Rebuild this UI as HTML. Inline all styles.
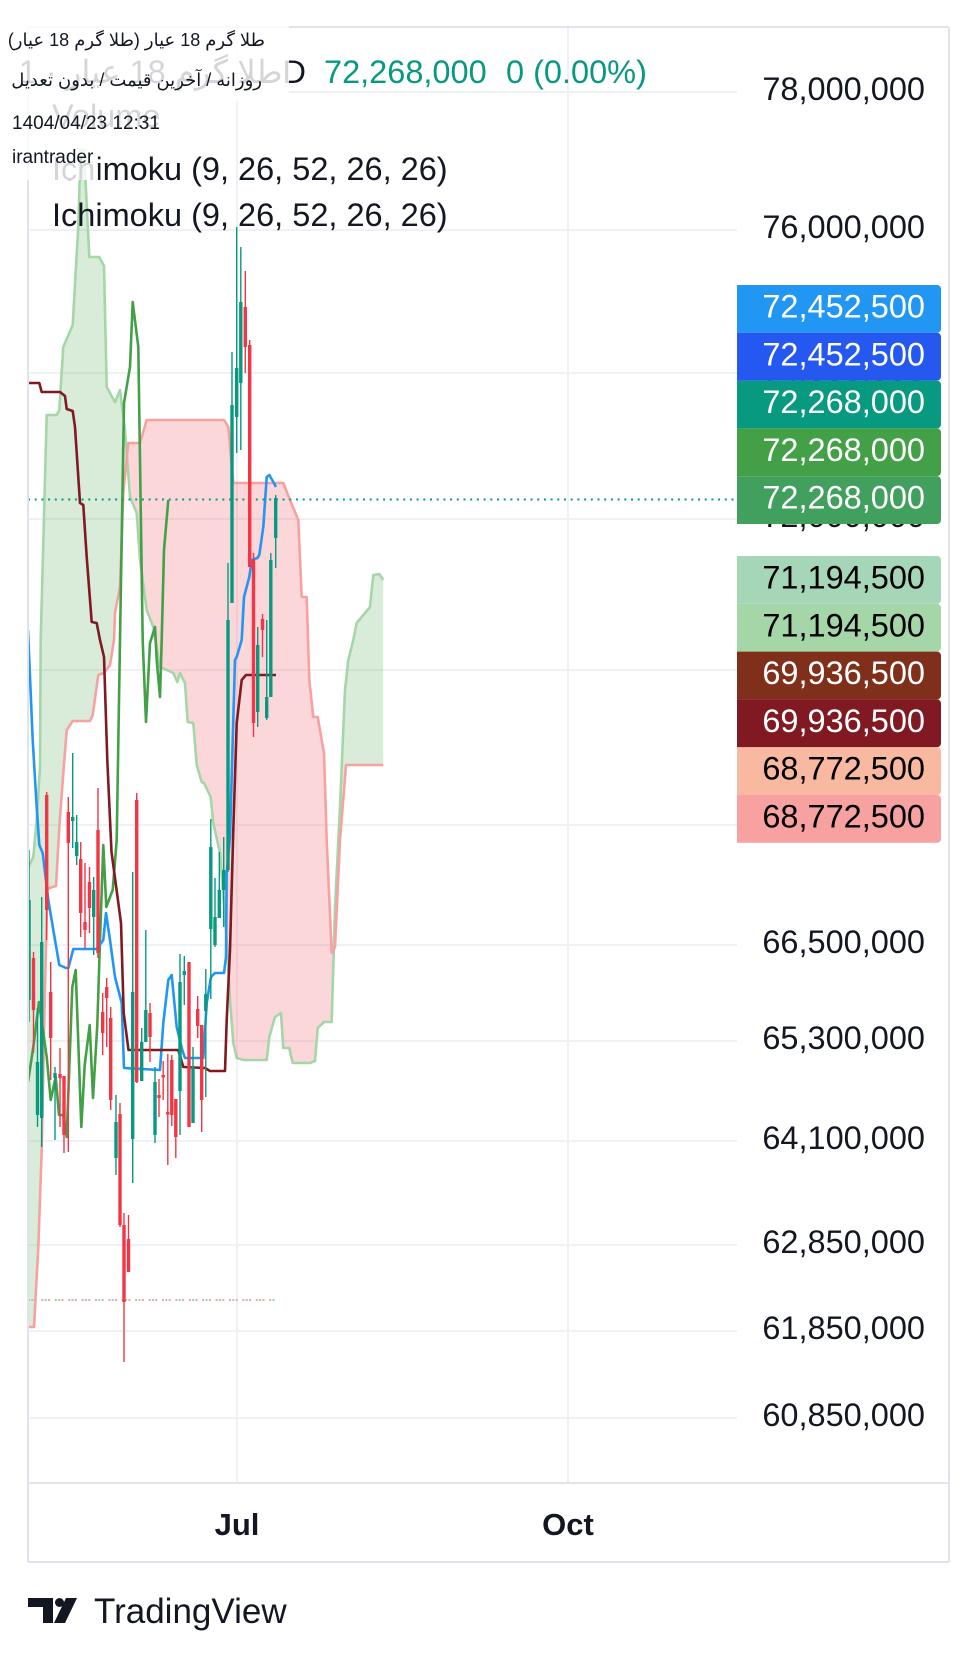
<!DOCTYPE html>
<html><head><meta charset="utf-8"><style>
html,body{margin:0;padding:0;background:#fff;}
#wrap{position:relative;width:978px;height:1660px;overflow:hidden;background:#fff;}
svg{position:absolute;left:0;top:0;}
.fa{position:absolute;font-family:"Liberation Sans","DejaVu Sans",sans-serif;font-size:18px;color:#131722;direction:rtl;white-space:nowrap;line-height:20px;}
</style></head><body><div id="wrap">
<svg width="978" height="1660" viewBox="0 0 978 1660" font-family="'Liberation Sans','DejaVu Sans',sans-serif">
<defs>
<clipPath id="plot"><rect x="28" y="27" width="709" height="1456"/></clipPath>
<clipPath id="belowA"><polygon points="28,868 33.3,857 36.7,820 40,767 40.7,640 46.7,415 56.7,415 59.3,410 63.3,347 72.7,325 78.3,227 80.5,150 84,150 89.3,257 99.3,257 104,266 106.7,387 115,402 120,390 125,430 130,497 136.7,513 140,560 146.7,610 153.3,627 160,667 173.3,673 177.3,682 180,673 185,683 187.7,722 193.3,723 196.7,765 201.7,782 204,783 210.7,797 213.3,823 220,853 226.7,940 230,1000 233.3,1043 236.7,1058 244,1060 266.7,1060 269.3,1037 275,1017 281,1013 283.3,1048 289.3,1048 292.7,1063 310,1063 315,1061 317.7,1028 324,1022 331.7,1022 335,907 340,807 345,690 348.3,660 353.3,640 356.7,623 370,607 373.3,575 379.3,574 383.3,580 383.3,1483 28,1483"/></clipPath>
<clipPath id="aboveA"><polygon points="28,868 33.3,857 36.7,820 40,767 40.7,640 46.7,415 56.7,415 59.3,410 63.3,347 72.7,325 78.3,227 80.5,150 84,150 89.3,257 99.3,257 104,266 106.7,387 115,402 120,390 125,430 130,497 136.7,513 140,560 146.7,610 153.3,627 160,667 173.3,673 177.3,682 180,673 185,683 187.7,722 193.3,723 196.7,765 201.7,782 204,783 210.7,797 213.3,823 220,853 226.7,940 230,1000 233.3,1043 236.7,1058 244,1060 266.7,1060 269.3,1037 275,1017 281,1013 283.3,1048 289.3,1048 292.7,1063 310,1063 315,1061 317.7,1028 324,1022 331.7,1022 335,907 340,807 345,690 348.3,660 353.3,640 356.7,623 370,607 373.3,575 379.3,574 383.3,580 383.3,0 28,0"/></clipPath>
<clipPath id="belowB"><polygon points="28,1327 34,1327 38.3,1247 41.7,1150 44.5,1010 47.3,890 49.3,888 56,886 59.3,827 63.3,773 66.7,730 72.7,721 90,721 92.7,715 98.3,675 104,673 110,665 114,640 115,613 120,587 123.3,493 128.3,443 140,443 146.7,420 224,420 228.3,427 233.3,483 283.3,483 290,500 298.3,520 301.7,597 306.7,597 309.3,680 313.3,717 317.7,717 324,753 326.7,840 331.7,953 335,947 340,840 346,765 383.3,765 383.3,1483 28,1483"/></clipPath>
<clipPath id="aboveB"><polygon points="28,1327 34,1327 38.3,1247 41.7,1150 44.5,1010 47.3,890 49.3,888 56,886 59.3,827 63.3,773 66.7,730 72.7,721 90,721 92.7,715 98.3,675 104,673 110,665 114,640 115,613 120,587 123.3,493 128.3,443 140,443 146.7,420 224,420 228.3,427 233.3,483 283.3,483 290,500 298.3,520 301.7,597 306.7,597 309.3,680 313.3,717 317.7,717 324,753 326.7,840 331.7,953 335,947 340,840 346,765 383.3,765 383.3,0 28,0"/></clipPath>
</defs>

<!-- grid -->
<g stroke="#F0F1F4" stroke-width="2">
<line x1="28" y1="92" x2="737" y2="92"/>
<line x1="28" y1="230" x2="737" y2="230"/>
<line x1="28" y1="373" x2="737" y2="373"/>
<line x1="28" y1="519" x2="737" y2="519"/>
<line x1="28" y1="670" x2="737" y2="670"/>
<line x1="28" y1="825" x2="737" y2="825"/>
<line x1="28" y1="945" x2="737" y2="945"/>
<line x1="28" y1="1041" x2="737" y2="1041"/>
<line x1="28" y1="1141" x2="737" y2="1141"/>
<line x1="28" y1="1245" x2="737" y2="1245"/>
<line x1="28" y1="1331" x2="737" y2="1331"/>
<line x1="28" y1="1418" x2="737" y2="1418"/>
<line x1="237" y1="27" x2="237" y2="1483"/>
<line x1="568" y1="27" x2="568" y2="1483"/>
</g>

<g clip-path="url(#plot)">
<!-- cloud -->
<g clip-path="url(#belowA)"><rect clip-path="url(#aboveB)" x="28" y="27" width="356" height="1456" fill="#43A047" fill-opacity="0.2"/></g>
<g clip-path="url(#belowB)"><rect clip-path="url(#aboveA)" x="28" y="27" width="356" height="1456" fill="#F23645" fill-opacity="0.2"/></g>

<g fill="none" stroke-width="2.6" stroke-linejoin="round">
<polyline stroke="#A5D6A7" points="28,868 33.3,857 36.7,820 40,767 40.7,640 46.7,415 56.7,415 59.3,410 63.3,347 72.7,325 78.3,227 80.5,150 84,150 89.3,257 99.3,257 104,266 106.7,387 115,402 120,390 125,430 130,497 136.7,513 140,560 146.7,610 153.3,627 160,667 173.3,673 177.3,682 180,673 185,683 187.7,722 193.3,723 196.7,765 201.7,782 204,783 210.7,797 213.3,823 220,853 226.7,940 230,1000 233.3,1043 236.7,1058 244,1060 266.7,1060 269.3,1037 275,1017 281,1013 283.3,1048 289.3,1048 292.7,1063 310,1063 315,1061 317.7,1028 324,1022 331.7,1022 335,907 340,807 345,690 348.3,660 353.3,640 356.7,623 370,607 373.3,575 379.3,574 383.3,580"/>
<polyline stroke="#F7A1A1" points="28,1327 34,1327 38.3,1247 41.7,1150 44.5,1010 47.3,890 49.3,888 56,886 59.3,827 63.3,773 66.7,730 72.7,721 90,721 92.7,715 98.3,675 104,673 110,665 114,640 115,613 120,587 123.3,493 128.3,443 140,443 146.7,420 224,420 228.3,427 233.3,483 283.3,483 290,500 298.3,520 301.7,597 306.7,597 309.3,680 313.3,717 317.7,717 324,753 326.7,840 331.7,953 335,947 340,840 346,765 383.3,765"/>
<polyline stroke="#43A047" points="28,1082 33.3,1047 39,1002 46.7,1057 50.7,1100 55.7,1077 59,1115 63.3,1115 66.7,1137 72.3,987 75.7,970 81.3,1127 84.7,1065 89.7,1025 93,1098 97.3,1025 100,940 103.3,845 106.3,907 112.7,890 116.7,840 120,640 124,403 130,367 132.7,302 138.3,347 142.7,640 144,673 146,722 150,643 155,627 156.7,660 160,697 161.7,640 164,550 168.3,500"/>
<polyline stroke="#2196F3" points="28,630 32.7,740 36.7,807 39.3,845 42.7,853 48.3,900 53.3,930 59.3,965 66,968 68.3,968 73.3,949 96.7,949 103.3,940 106,913 110,940 115,977 121.7,1003 124,1068 160,1070 163.3,1023 168.3,980 171.7,975 176.7,1027 182.3,1050 185,1058 203.3,1058 206.7,1003 211,977 215,973 224,973 226,957 226.7,873 230,837 235,660 236.7,657 241.7,640 244,597 249.3,577 251.7,560 257.3,558 259.3,555 263.3,527 266.7,477 269.3,475 273.3,482 276,487"/>
<polyline stroke="#801922" points="28,383 39.3,383 41.7,392 60,392 65,396 66.7,409 72.7,411 75,427 80,503 83.3,505 86.7,557 91.7,622 96.7,623 100,640 104,657 107.3,760 111.5,852 115,878 121,923 123.7,1013 128.5,1050 178.3,1050 183.3,1067 205,1068 210,1071 225,1071 226.7,1020 230,950 233.3,830 236.7,723 241.7,680 246,675 276,675"/>
</g>

<!-- dotted lines -->
<line x1="28" y1="499.5" x2="737" y2="499.5" stroke="#089981" stroke-width="2" stroke-dasharray="2 4.7"/>
<line x1="28" y1="1300" x2="276" y2="1300" stroke="#F7A1A1" stroke-width="2" stroke-dasharray="2 4.7"/>
<line x1="31.3" y1="1300" x2="276" y2="1300" stroke="#8FD3C5" stroke-width="2" stroke-dasharray="2 11.4"/>

<!-- candles -->
<path fill="none" stroke="#089981" stroke-width="1.4" d="M29 850V1022M37.5 1008V1127M41.7 897V1147M55 1067V1140M72.7 753V848M76.7 815V865M93.7 877V955M116 1095V1175M132.7 872V1183M141.7 1028V1081M145.8 930V1042M155 1067V1143M180 954V1135M184.3 956V1005M193 1047V1123M205.8 969V1097M210.8 819V999M215 878V947M219.3 852V918M223.7 837V927M228 563V872M232 352V603M236.7 227V453M240.8 247V450M257.7 627V727M266.7 620V720M270.8 553V697M275.7 495V568"/>
<g fill="#089981">
<rect x="27.3" y="900" width="3.4" height="100"/>
<rect x="35.8" y="1062" width="3.4" height="53"/>
<rect x="40" y="942" width="3.4" height="176"/>
<rect x="53.3" y="1073" width="3.4" height="5"/>
<rect x="71" y="817" width="3.4" height="4"/>
<rect x="75" y="842" width="3.4" height="14"/>
<rect x="92" y="890" width="3.4" height="27"/>
<rect x="114.3" y="1122" width="3.4" height="36"/>
<rect x="131" y="992" width="3.4" height="147"/>
<rect x="140" y="1042" width="3.4" height="39"/>
<rect x="144.1" y="1010" width="3.4" height="32"/>
<rect x="153.3" y="1082" width="3.4" height="53"/>
<rect x="178.3" y="982" width="3.4" height="109"/>
<rect x="182.6" y="971" width="3.4" height="4"/>
<rect x="191.3" y="1066" width="3.4" height="57"/>
<rect x="204.1" y="994" width="3.4" height="17"/>
<rect x="209.1" y="847" width="3.4" height="82"/>
<rect x="213.3" y="917" width="3.4" height="28"/>
<rect x="217.6" y="890" width="3.4" height="28"/>
<rect x="222" y="870" width="3.4" height="20"/>
<rect x="226.3" y="620" width="3.4" height="250"/>
<rect x="230.3" y="405" width="3.4" height="198"/>
<rect x="235" y="368" width="3.4" height="49"/>
<rect x="239.1" y="302" width="3.4" height="81"/>
<rect x="256" y="645" width="3.4" height="67"/>
<rect x="265" y="697" width="3.4" height="21"/>
<rect x="269.1" y="560" width="3.4" height="137"/>
<rect x="274" y="498" width="3.4" height="40"/>
</g>
<path fill="none" stroke="#F23645" stroke-width="1.4" d="M33.5 952V1053M46.7 792V940M50.7 962V1080M60 1048V1127M64 1076V1153M68.3 797V1152M80.7 842V937M85 863V948M89.5 867V933M98 788V958M102.7 993V1055M106.7 978V1047M110.7 1007V1110M120 1103V1227M124 1213V1362M128.5 1215V1272M136.7 793V1083M150 1003V1062M159 1079V1117M163.2 1061V1100M167.8 1054V1165M171.8 1055V1126M175.8 1099V1158M189 962V1127M197.7 996V1038M201.7 1025V1132M245.3 271V373M249.7 340V567M253.5 553V737M262.5 614V657"/>
<g fill="#F23645">
<rect x="31.8" y="958" width="3.4" height="52"/>
<rect x="45" y="795" width="3.4" height="115"/>
<rect x="49" y="992" width="3.4" height="46"/>
<rect x="58.3" y="1074" width="3.4" height="4"/>
<rect x="62.3" y="1076" width="3.4" height="59"/>
<rect x="66.6" y="812" width="3.4" height="31"/>
<rect x="79" y="859" width="3.4" height="54"/>
<rect x="83.3" y="922" width="3.4" height="8"/>
<rect x="87.8" y="882" width="3.4" height="26"/>
<rect x="96.3" y="830" width="3.4" height="123"/>
<rect x="101" y="1012" width="3.4" height="21"/>
<rect x="105" y="987" width="3.4" height="11"/>
<rect x="109" y="1018" width="3.4" height="82"/>
<rect x="118.3" y="1114" width="3.4" height="111"/>
<rect x="122.3" y="1225" width="3.4" height="77"/>
<rect x="126.8" y="1239" width="3.4" height="33"/>
<rect x="135" y="800" width="3.4" height="282"/>
<rect x="148.3" y="1013" width="3.4" height="24"/>
<rect x="157.3" y="1095" width="3.4" height="3"/>
<rect x="161.5" y="1075" width="3.4" height="2.5"/>
<rect x="166.1" y="1112" width="3.4" height="2.5"/>
<rect x="170.1" y="1060" width="3.4" height="55"/>
<rect x="174.1" y="1099" width="3.4" height="38"/>
<rect x="187.3" y="962" width="3.4" height="165"/>
<rect x="196" y="1009" width="3.4" height="17"/>
<rect x="200" y="1025" width="3.4" height="75"/>
<rect x="243.6" y="307" width="3.4" height="40"/>
<rect x="248" y="345" width="3.4" height="222"/>
<rect x="251.8" y="560" width="3.4" height="163"/>
<rect x="260.8" y="619" width="3.4" height="11"/>
</g>
</g>

<!-- borders -->
<g stroke="#E0E3EB" stroke-width="2" fill="none">
<line x1="28" y1="27" x2="949" y2="27"/>
<line x1="28" y1="27" x2="28" y2="1562"/>
<line x1="949" y1="27" x2="949" y2="1562"/>
<line x1="28" y1="1562" x2="949" y2="1562"/>
<line x1="28" y1="1483" x2="949" y2="1483"/>
</g>

<!-- price axis labels -->
<g font-size="32.5" fill="#131722" text-anchor="end">
<text x="925" y="100">78,000,000</text>
<text x="925" y="238">76,000,000</text>
<text x="925" y="381">74,000,000</text>
<text x="925" y="527">72,000,000</text>
<text x="925" y="678">70,000,000</text>
<text x="925" y="833">68,000,000</text>
<text x="925" y="953">66,500,000</text>
<text x="925" y="1049">65,300,000</text>
<text x="925" y="1149">64,100,000</text>
<text x="925" y="1253">62,850,000</text>
<text x="925" y="1339">61,850,000</text>
<text x="925" y="1426">60,850,000</text>
</g>

<!-- value boxes -->
<g>
<path d="M737,285H937a4,4 0 0 1 4,4V328.8a4,4 0 0 1 -4,4H737Z" fill="#2196F3"/>
<path d="M737,332.8H937a4,4 0 0 1 4,4V376.6a4,4 0 0 1 -4,4H737Z" fill="#2458F0"/>
<path d="M737,380.6H937a4,4 0 0 1 4,4V424.4a4,4 0 0 1 -4,4H737Z" fill="#089981"/>
<path d="M737,428.4H937a4,4 0 0 1 4,4V472.2a4,4 0 0 1 -4,4H737Z" fill="#43A047"/>
<path d="M737,476.2H937a4,4 0 0 1 4,4V520a4,4 0 0 1 -4,4H737Z" fill="#42A05F"/>
<path d="M737,556H937a4,4 0 0 1 4,4V599.8a4,4 0 0 1 -4,4H737Z" fill="#A6D6B8"/>
<path d="M737,603.8H937a4,4 0 0 1 4,4V647.6a4,4 0 0 1 -4,4H737Z" fill="#A5D6A7"/>
<path d="M737,651.6H937a4,4 0 0 1 4,4V695.4a4,4 0 0 1 -4,4H737Z" fill="#7F2F1A"/>
<path d="M737,699.4H937a4,4 0 0 1 4,4V743.2a4,4 0 0 1 -4,4H737Z" fill="#801922"/>
<path d="M737,747.2H937a4,4 0 0 1 4,4V791a4,4 0 0 1 -4,4H737Z" fill="#F9B8A0"/>
<path d="M737,795H937a4,4 0 0 1 4,4V838.8a4,4 0 0 1 -4,4H737Z" fill="#F7A1A1"/>
</g>
<g font-size="32.5" text-anchor="end">
<text x="925" y="317.5" fill="#fff">72,452,500</text>
<text x="925" y="365.3" fill="#fff">72,452,500</text>
<text x="925" y="413.1" fill="#fff">72,268,000</text>
<text x="925" y="460.9" fill="#fff">72,268,000</text>
<text x="925" y="508.7" fill="#fff">72,268,000</text>
<text x="925" y="588.5" fill="#000">71,194,500</text>
<text x="925" y="636.3" fill="#000">71,194,500</text>
<text x="925" y="684.1" fill="#fff">69,936,500</text>
<text x="925" y="731.9" fill="#fff">69,936,500</text>
<text x="925" y="779.7" fill="#000">68,772,500</text>
<text x="925" y="827.5" fill="#000">68,772,500</text>
</g>

<!-- time axis -->
<g font-size="31" font-weight="bold" fill="#131722" text-anchor="middle">
<text x="237" y="1535">Jul</text>
<text x="568" y="1535">Oct</text>
</g>

<!-- legend texts (under overlay) -->
<text x="306" y="83" font-size="32.5" fill="#131722" text-anchor="end">طلا گرم 18 عیار · 1D</text>
<text x="324" y="83" font-size="32.5" fill="#089981">72,268,000</text>
<text x="506" y="83" font-size="32.5" fill="#089981">0 (0.00%)</text>
<text x="52" y="127" font-size="32.5" fill="#131722">Volume</text>
<text x="52" y="180" font-size="32.5" fill="#131722">Ichimoku (9, 26, 52, 26, 26)</text>
<text x="52" y="226" font-size="32.5" fill="#131722">Ichimoku (9, 26, 52, 26, 26)</text>

<!-- white translucent boxes -->
<g fill="#fff" fill-opacity="0.82">
<rect x="0" y="21" width="289" height="80"/>
<rect x="0" y="101" width="172" height="39"/>
<rect x="0" y="140" width="98" height="40"/>
</g>
<text x="12" y="129" font-size="19" fill="#131722">1404/04/23 12:31</text>
<text x="12" y="163" font-size="19" fill="#131722">irantrader</text>

<!-- TradingView logo -->
<g fill="#131722">
<path d="M28,1598H53V1623H43V1607H28Z"/>
<circle cx="59.5" cy="1602.5" r="4.5"/>
<path d="M66,1598H77L65,1623H54Z"/>
</g>
<text x="94" y="1623" font-size="35" fill="#131722">TradingView</text>
</svg>
<div class="fa" style="top:30px;right:713px;">طلا گرم 18 عیار (طلا گرم 18 عیار)</div>
<div class="fa" style="top:70px;right:716px;">روزانه / آخرین قیمت / بدون تعدیل</div>
</div></body></html>
